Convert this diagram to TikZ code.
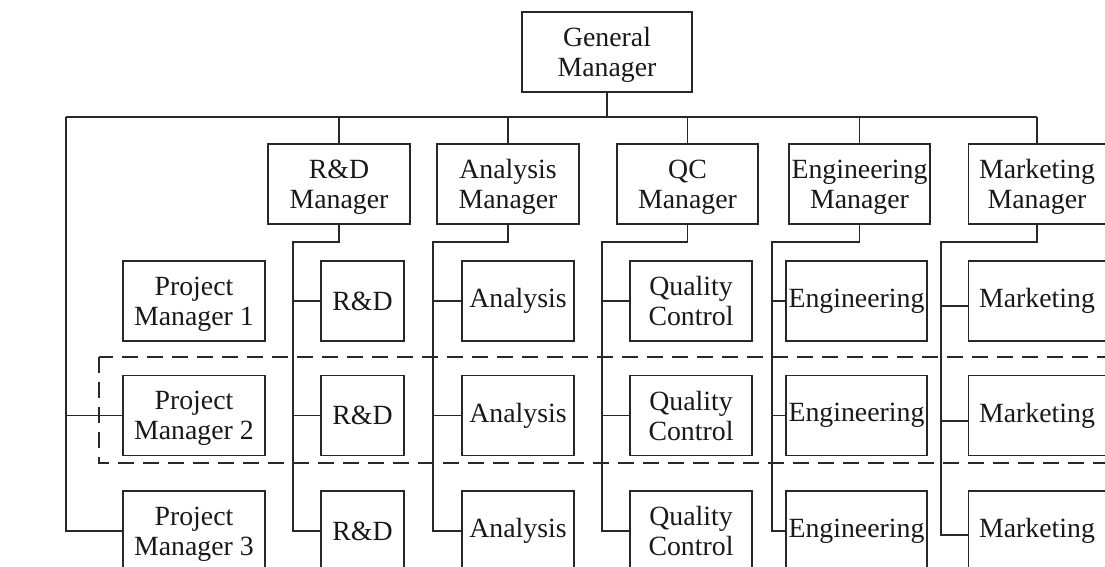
\documentclass[tikz,border=0pt]{standalone}
\usepackage{fontspec}
\setmainfont{Liberation Serif}
\definecolor{linec}{RGB}{40,40,40}
\definecolor{textc}{RGB}{25,25,25}
\tikzset{
  box/.style={draw=linec, line width=1.6pt, minimum height=80pt, inner sep=0pt,
    align=center, font=\fontsize{27.8}{30}\selectfont, text=textc, fill=white},
  twoline/.style={text depth=0pt},
  conn/.style={draw=linec, line width=1.6pt},
  grp/.style={draw=linec, line width=1.6pt, dash pattern=on 16pt off 9pt}
}
\begin{document}
\begin{tikzpicture}[x=1pt,y=-1pt]
\useasboundingbox (0,0) rectangle (1105,567);
\clip (0,0) rectangle (1105,567);
\fill[white] (0,0) rectangle (1105,567);

% group frame (drawn first, under the boxes)
\draw[grp] (99,357) rectangle (1125,463);

% top level
\node[box, twoline, minimum width=170pt] (gm) at (607,52) {General\\Manager};

% managers
\node[box, twoline, minimum width=142pt] (rdm) at (339,184) {R\&D\\Manager};
\node[box, twoline, minimum width=142pt] (anm) at (508,184) {Analysis\\Manager};
\node[box, twoline, minimum width=141pt] (qcm) at (687.5,184) {QC\\Manager};
\node[box, twoline, minimum width=141pt] (enm) at (859.5,184) {Engineering\\Manager};
\node[box, twoline, minimum width=137pt] (mkm) at (1037,184) {Marketing\\Manager};

% rows
\foreach \r/\y in {1/301,2/415.5,3/531}{
  \node[box, twoline, minimum width=142pt] (pm\r) at (194,\y) {Project\\Manager \r};
  \node[box, minimum width=83pt]  (rd\r) at (362.5,\y) {R\&D};
  \node[box, minimum width=112pt] (an\r) at (518,\y) {Analysis};
  \node[box, twoline, minimum width=122pt] (qc\r) at (691,\y) {Quality\\Control};
  \node[box, minimum width=141pt] (en\r) at (856.5,\y) {Engineering};
  \node[box, minimum width=137pt] (mk\r) at (1037,\y) {Marketing};
}

% bus
\coordinate (busL) at (66,117);
\draw[conn] (gm.south) -- (gm.south |- busL);
\draw[conn] (busL) -- (mkm.north |- busL);
\foreach \m in {rdm,anm,qcm,enm,mkm}{
  \draw[conn] (\m.north) -- (\m.north |- busL);
}

% project managers
\draw[conn] (busL) |- (pm3.west);
\draw[conn] (busL |- pm2.west) -- (pm2.west);

% department columns
\coordinate (rdj) at (293,242);
\coordinate (anj) at (433,242);
\coordinate (qcj) at (602,242);
\coordinate (enj) at (772,242);
\coordinate (mkj) at (941,242);

\foreach \m/\c in {rdm/rd,anm/an,qcm/qc,enm/en}{
  \draw[conn] (\m.south) |- (\c j) |- (\c3.west);
  \draw[conn] (\c j |- \c1.west) -- (\c1.west);
  \draw[conn] (\c j |- \c2.west) -- (\c2.west);
}
\coordinate (mk1in) at ([yshift=-5pt]mk1.west);
\coordinate (mk2in) at ([yshift=-5.5pt]mk2.west);
\coordinate (mk3in) at ([yshift=-4pt]mk3.west);
\draw[conn] (mkm.south) |- (mkj) |- (mk3in);
\draw[conn] (mkj |- mk1in) -- (mk1in);
\draw[conn] (mkj |- mk2in) -- (mk2in);
\end{tikzpicture}
\end{document}
